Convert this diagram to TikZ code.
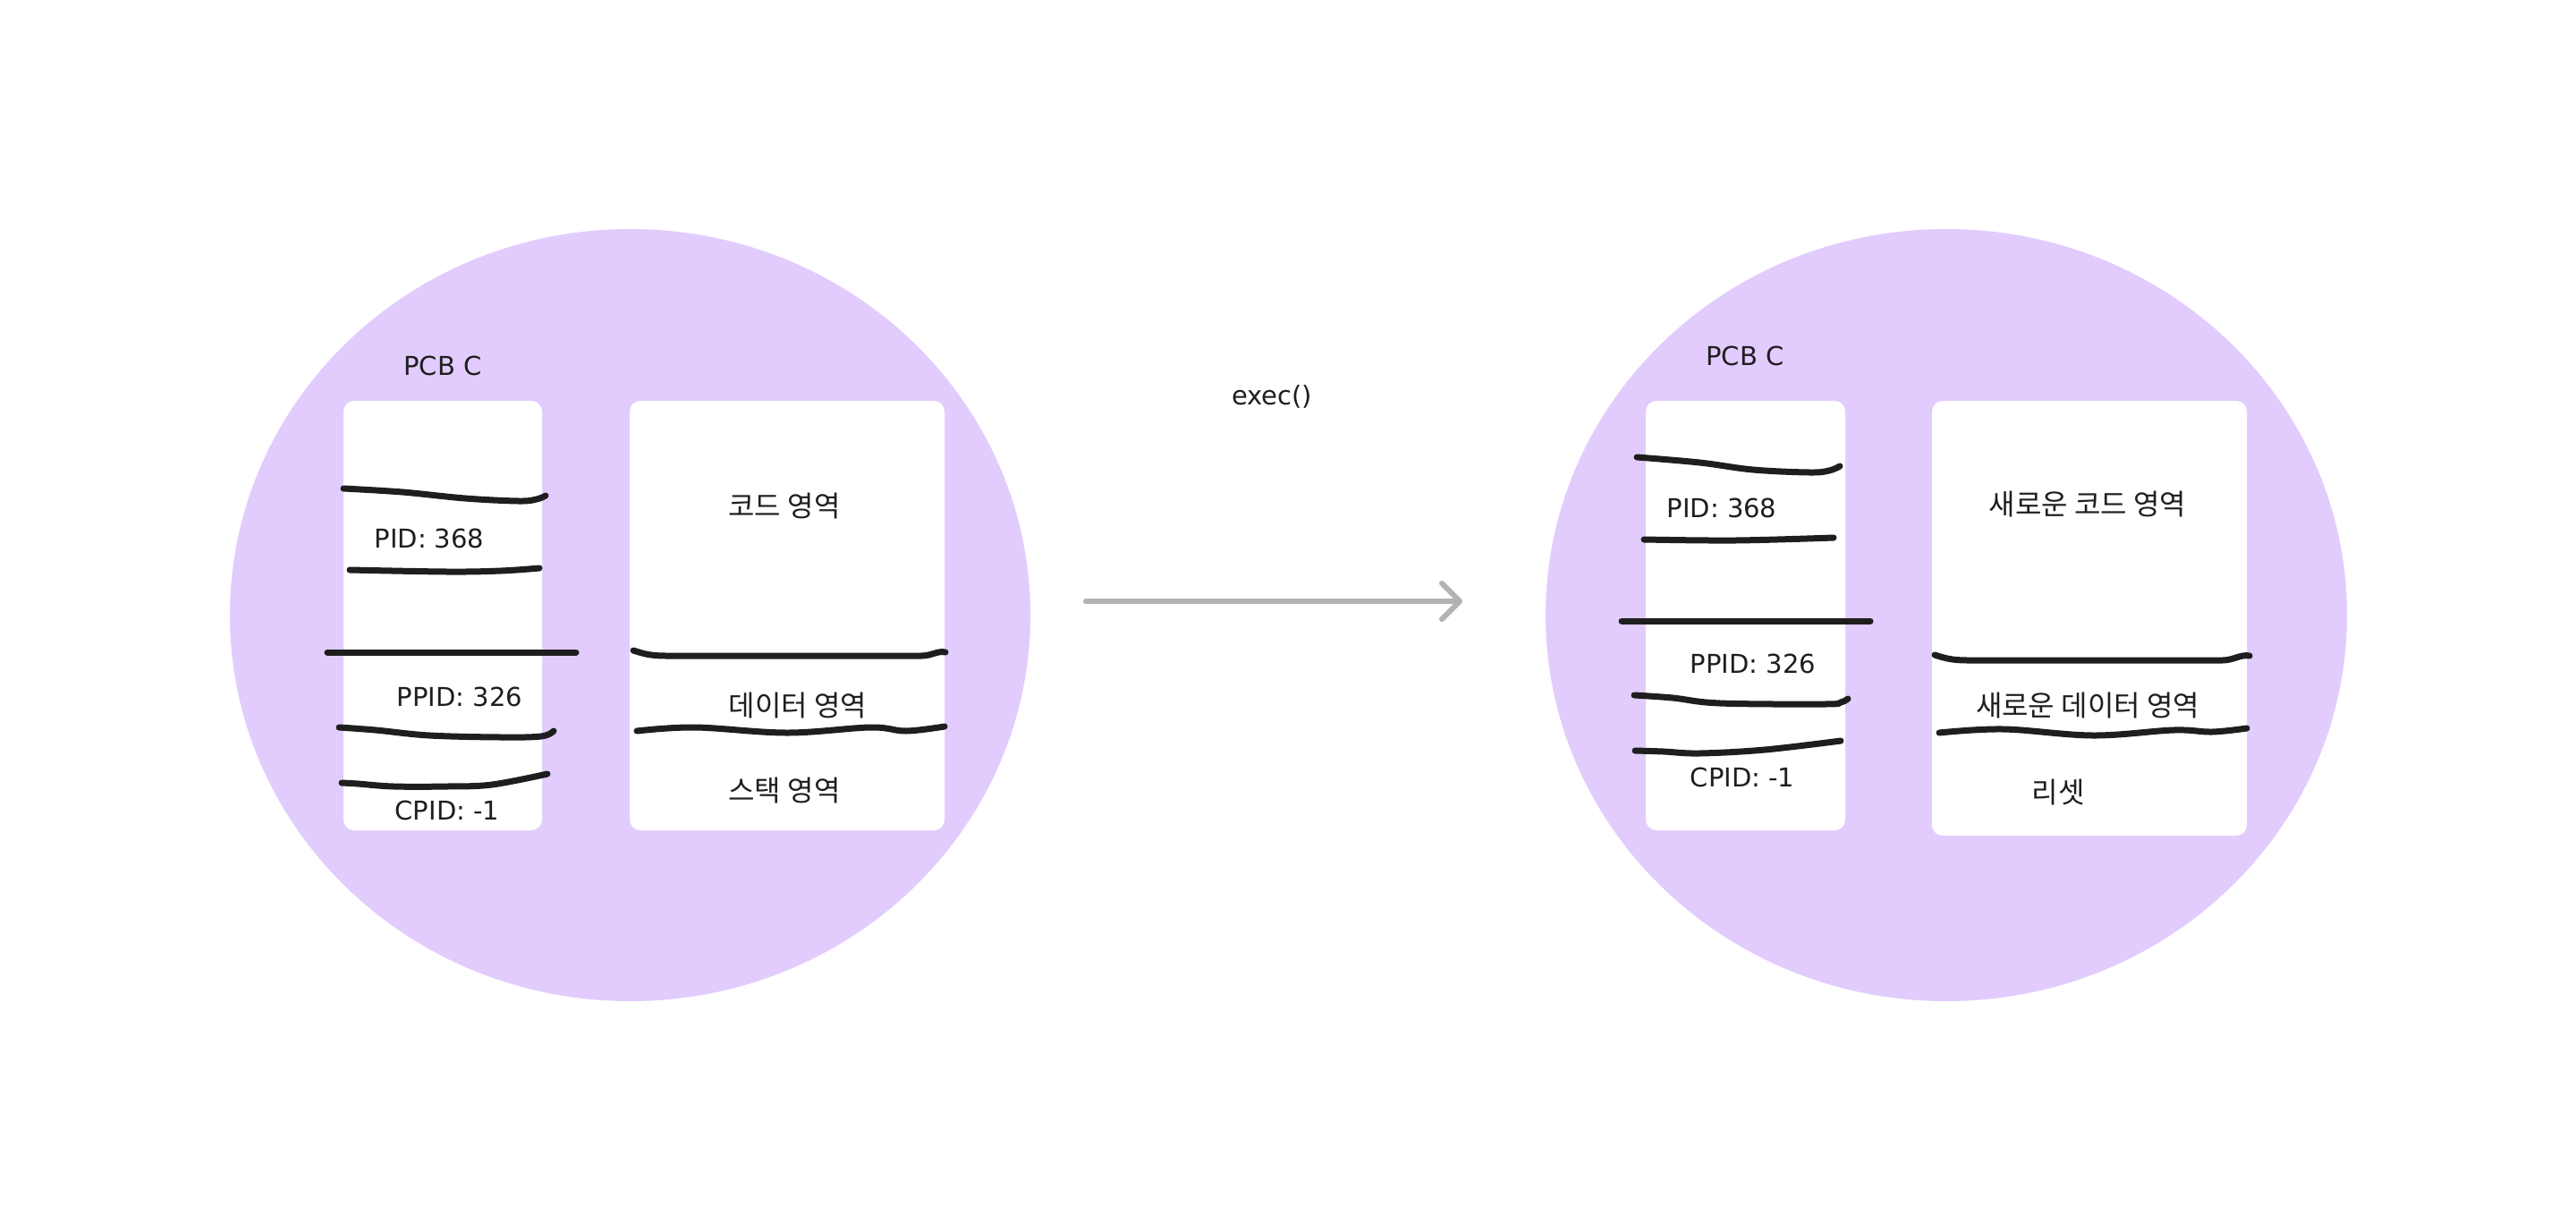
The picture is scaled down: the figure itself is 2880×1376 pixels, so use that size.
\documentclass[tikz,border=0pt]{standalone}
\usepackage{fontspec}
\setmainfont{DejaVu Sans}
\newfontfamily\krfont{Noto Sans CJK KR}
\usetikzlibrary{arrows.meta}
\definecolor{circ}{HTML}{E2CCFD}
\definecolor{ink}{HTML}{1E1E1E}
\definecolor{arrowgray}{HTML}{B3B3B3}
\begin{document}
\begin{tikzpicture}[x=1pt,y=-1pt,
  lbl/.style={anchor=base, inner sep=0pt, text=ink, font=\fontsize{29}{34}\selectfont},
  krlbl/.style={anchor=base, inner sep=0pt, text=ink, font=\krfont\fontsize{32}{38}\selectfont},
  panel/.style={fill=white, rounded corners=12pt},
  stroke/.style={draw=ink, line width=7pt, line cap=round, line join=round},
  blob/.style={fill=circ},
  flow/.style={draw=arrowgray, line width=6pt, line cap=round,
    -{Straight Barb[length=20pt,width=40pt,round]}}]
\useasboundingbox (0,0) rectangle (2880,1376);
\fill[white] (0,0) rectangle (2880,1376);

% process blobs
\fill[blob] (704.5,687.5) ellipse [x radius=447.5pt, y radius=431.5pt];
\fill[blob] (2176,687.5) ellipse [x radius=448pt, y radius=431.5pt];

% panels
\fill[panel] (384,448) rectangle (606,928);
\fill[panel] (704,448) rectangle (1056,928);
\fill[panel] (1840,448) rectangle (2063,928);
\fill[panel] (2160,448) rectangle (2512,934);

% left PCB strokes
\draw[stroke] plot[smooth, tension=0.6] coordinates {(384,546) (450,550) (520,557) (580,560) (600,558) (610,554)};
\draw[stroke] plot[smooth, tension=0.6] coordinates {(391,637) (500,639) (560,638) (603,635)};
\draw[stroke] (366,729) -- (644,729);
\draw[stroke] plot[smooth, tension=0.6] coordinates {(379,813) (420,816) (480,822) (560,824) (605,823) (619,817)};
\draw[stroke] plot[smooth, tension=0.6] coordinates {(382,875) (400,876) (440,879) (500,879) (550,877) (612,865)};

% left memory strokes
\draw[stroke] (708,727) .. controls (718,730) and (725,733) .. (745,733) -- (1030,733) .. controls (1042,733) and (1048,727) .. (1057,729);
\draw[stroke] plot[smooth, tension=0.6] coordinates {(712,817) (777,813) (880,819) (973,813) (1013,817) (1056,812)};

% right PCB strokes
\draw[stroke] plot[smooth, tension=0.6] coordinates {(1830,511) (1900,517) (1960,525) (2023,528) (2045,526) (2057,521)};
\draw[stroke] plot[smooth, tension=0.6] coordinates {(1838,603) (1940,604) (2050,601)};
\draw[stroke] (1813,694) -- (2091,694);
\draw[stroke] plot[smooth, tension=0.6] coordinates {(1827,777) (1870,780) (1923,786) (2040,787) (2058,785) (2066,781)};
\draw[stroke] plot[smooth, tension=0.6] coordinates {(1828,839) (1860,840) (1900,842) (1973,838) (2058,828)};

% right memory strokes
\draw[stroke] (2163,732) .. controls (2173,735) and (2180,738) .. (2200,738) -- (2485,738) .. controls (2497,738) and (2505,731) .. (2515,733);
\draw[stroke] plot[smooth, tension=0.6] coordinates {(2168,819) (2240,815) (2340,822) (2430,816) (2473,818) (2512,814)};

% labels left
\node[lbl] (pcbL) at (495,419) {PCB C};
\node[lbl] (pidL) at (480,612) {PID: 368};
\node[lbl] (ppidL) at (514,789) {PPID: 326};
\node[lbl] (cpidL) at (500,916) {CPID: -1};
\node[krlbl] (codeL) at (877,577) {코드 영역};
\node[krlbl] (dataL) at (892,800) {데이터 영역};
\node[krlbl] (stackL) at (877,895) {스택 영역};

% labels right
\node[lbl] (pcbR) at (1951,408) {PCB C};
\node[lbl] (pidR) at (1925,578) {PID: 368};
\node[lbl] (ppidR) at (1960,752) {PPID: 326};
\node[lbl] (cpidR) at (1948,879) {CPID: -1};
\node[krlbl] (codeR) at (2334,575) {새로운 코드 영역};
\node[krlbl] (dataR) at (2334,800) {새로운 데이터 영역};
\node[krlbl] (resetR) at (2301,897) {리셋};

% exec arrow
\node[lbl] (exec) at (1422,452) {exec()};
\coordinate (arrS) at (1214,672);
\coordinate (arrE) at (1635,672);
\draw[flow] (arrS) -- (arrE);
\end{tikzpicture}
\end{document}
